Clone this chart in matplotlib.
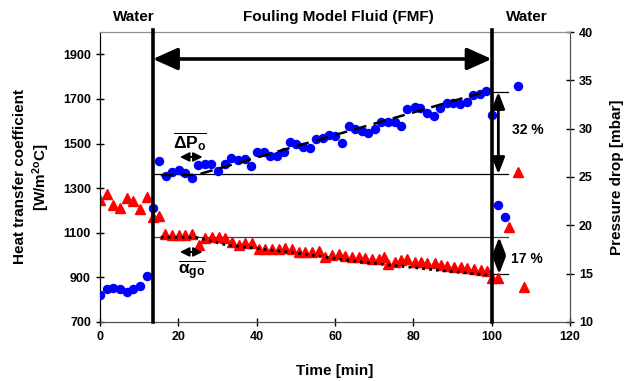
import matplotlib
matplotlib.use("Agg")
import matplotlib.pyplot as plt
from matplotlib.patches import FancyArrowPatch

plt.rcParams['font.family'] = ['Liberation Sans', 'DejaVu Sans']
plt.rcParams['font.weight'] = 'bold'
plt.rcParams['mathtext.fontset'] = 'custom'
plt.rcParams['mathtext.rm'] = 'Liberation Sans:bold'
plt.rcParams['mathtext.bf'] = 'Liberation Sans:bold'
plt.rcParams['mathtext.it'] = 'Liberation Sans:bold'

# ---- data: heat transfer coefficient (left axis, red triangles) ----
t_htc = [0, 1.7, 3.4, 5.1, 6.8, 8.5, 10.2, 11.9, 13.4, 15.1,
         16.6, 18.3, 20.1, 21.8, 23.5, 25.2, 26.9, 28.6, 30.3, 32.0,
         33.7, 35.4, 37.1, 38.8, 40.5, 42.2, 43.9, 45.6, 47.3, 49.0,
         50.7, 52.4, 54.1, 55.8, 57.5, 59.2, 60.9, 62.6, 64.3, 66.0,
         67.7, 69.4, 71.1, 72.4, 73.5, 75.2, 76.9, 78.5, 80.3, 81.9,
         83.6, 85.4, 87.1, 88.7, 90.4, 92.2, 93.8, 95.5, 97.2, 98.7,
         100.2, 101.5, 104.5, 106.8, 108.2]
htc = [1247, 1274, 1224, 1212, 1254, 1244, 1205, 1262, 1172, 1176,
       1094, 1090, 1090, 1090, 1094, 1045, 1075, 1080, 1082, 1075,
       1060, 1045, 1053, 1053, 1026, 1025, 1026, 1026, 1030, 1026,
       1015, 1012, 1015, 1019, 993, 1000, 1003, 997, 990, 993,
       985, 981, 981, 990, 962, 970, 978, 981, 970, 968,
       963, 963, 955, 952, 948, 945, 941, 936, 933, 930,
       896, 896, 1127, 1374, 858]

# ---- data: pressure drop (right axis, blue circles) ----
t_dp = [0, 1.7, 3.4, 5.1, 6.8, 8.5, 10.2, 11.9, 13.4,
        15.1, 16.8, 18.4, 20.1, 21.8, 23.4, 25.0, 26.8, 28.4, 30.1,
        31.8, 33.4, 35.2, 36.9, 38.5, 40.1, 41.8, 43.5, 45.2, 46.9,
        48.4, 50.1, 51.8, 53.5, 55.2, 56.9, 58.4, 60.1, 61.8, 63.5,
        65.2, 66.9, 68.4, 70.1, 71.8, 73.5, 75.2, 76.9, 78.5, 80.3,
        81.8, 83.5, 85.2, 86.9, 88.6, 90.2, 91.9, 93.6, 95.3, 97.0,
        98.5, 100.2, 101.7, 103.4, 106.8]
dp = [12.8, 13.4, 13.5, 13.4, 13.1, 13.4, 13.7, 14.8, 21.8,
      26.7, 25.1, 25.5, 25.7, 25.4, 24.9, 26.2, 26.3, 26.3, 25.65,
      26.3, 27.0, 26.8, 26.9, 26.1, 27.55, 27.55, 27.2, 27.2, 27.6,
      28.6, 28.4, 28.1, 27.97, 28.9, 29.0, 29.3, 29.2, 28.5, 30.3,
      30.0, 29.76, 29.6, 30.0, 30.66, 30.66, 30.66, 30.3, 32.0, 32.2,
      32.1, 31.6, 31.3, 32.1, 32.7, 32.7, 32.55, 32.8, 33.5, 33.55,
      33.9, 31.4, 22.1, 20.9, 34.4]

# trend lines
fit_dp_t = [15.5, 24.5, 99.0]
fit_dp = [25.2, 25.2, 33.9]
fit_htc_t = [15.5, 25.0, 32.3, 49.2, 66.2, 85.8, 98.9]
fit_htc = [1080, 1078, 1045, 1011, 970, 933, 911]

# reference levels
dp_start, dp_end = 25.3, 33.8
htc_start, htc_end = 1080, 915
t_fmf_start, t_fmf_end = 13.5, 100.0

fig = plt.figure(figsize=(6.24, 3.81), dpi=100)
ax = fig.add_axes([0.1603, 0.1549, 0.7532, 0.7611])
ax2 = ax.twinx()

ax.set_xlim(0, 120)
ax.set_ylim(700, 2000)
ax2.set_ylim(10, 40)
ax.set_xticks(range(0, 121, 20))
ax.set_yticks(range(700, 2000, 200))
ax2.set_yticks(range(10, 41, 5))

for a in (ax, ax2):
    a.tick_params(labelsize=9, direction='inout', length=6, width=1, colors='black')
ax.spines['left'].set_color('black')
ax.spines['bottom'].set_color('#505050')
ax.spines['top'].set_color('#909090')
ax.spines['right'].set_color('#505050')
ax2.spines['right'].set_color('#505050')
ax2.spines['left'].set_color('black')
ax2.spines['top'].set_color('#909090')
ax2.spines['bottom'].set_color('#505050')

ax.set_xlabel('Time [min]', fontsize=11, fontweight='bold', labelpad=15)
ax.set_ylabel('Heat transfer coefficient\n[W/m$^2$$^o$C]', fontsize=11, fontweight='bold', labelpad=8)
ax2.set_ylabel('Pressure drop [mbar]', fontsize=11, fontweight='bold', labelpad=12)

# reference horizontal lines
ax2.plot([t_fmf_start, 104.2], [dp_start, dp_start], color='black', lw=0.9, zorder=2)
ax2.plot([97.5, 104.2], [dp_end, dp_end], color='black', lw=0.9, zorder=2)
ax.plot([t_fmf_start, 104.2], [htc_start, htc_start], color='#404040', lw=0.9, zorder=2)
ax.plot([95.0, 104.2], [htc_end, htc_end], color='black', lw=0.9, zorder=2)

# data
ax.plot(t_htc, htc, linestyle='none', marker='^', color='#FF0000', markersize=6.8, zorder=3)
ax2.plot(t_dp, dp, linestyle='none', marker='o', color='#0000FF', markersize=5.8, zorder=3)

# trends
ax2.plot(fit_dp_t, fit_dp, color='black', lw=1.8, linestyle=(0, (5, 3)), zorder=4)
ax.plot(fit_htc_t, fit_htc, color='black', lw=2.0, linestyle=(0, (1, 1.5)), zorder=4)

# thick vertical phase lines
for tv in (t_fmf_start, t_fmf_end):
    ax2.plot([tv, tv], [10, 40.2], color='black', lw=2.6, zorder=5, clip_on=False)

# big horizontal double arrow
ax.add_patch(FancyArrowPatch((t_fmf_start, 1879), (t_fmf_end, 1879),
                             arrowstyle='<|-|>,head_length=1.0,head_width=0.45',
                             mutation_scale=15, lw=2.6, color='black', zorder=6,
                             shrinkA=0, shrinkB=0))
# vertical arrows
ax2.add_patch(FancyArrowPatch((101.7, dp_start), (101.7, dp_end),
                              arrowstyle='<|-|>,head_length=0.9,head_width=0.35',
                              mutation_scale=11, lw=2.0, color='black', zorder=6,
                              shrinkA=0, shrinkB=0))
ax.add_patch(FancyArrowPatch((101.9, htc_end), (101.9, htc_start),
                             arrowstyle='<|-|>,head_length=0.9,head_width=0.35',
                             mutation_scale=11, lw=2.0, color='black', zorder=6,
                             shrinkA=0, shrinkB=0))
# small arrows
ax2.add_patch(FancyArrowPatch((20.4, 27.07), (26.2, 27.07),
                              arrowstyle='<|-|>,head_length=0.6,head_width=0.3',
                              mutation_scale=9, lw=1.4, color='black', zorder=6,
                              shrinkA=0, shrinkB=0))
ax.add_patch(FancyArrowPatch((20.4, 1014), (26.2, 1014),
                             arrowstyle='<|-|>,head_length=0.6,head_width=0.3',
                             mutation_scale=9, lw=1.4, color='black', zorder=6,
                             shrinkA=0, shrinkB=0))

ax2.text(23.0, 28.7, r'$\overline{\Delta P_o}$', fontsize=12.5, ha='center', va='center', zorder=7)
ax.text(23.4, 930, r'$\overline{\alpha_{go}}$', fontsize=12.5, ha='center', va='center', zorder=7)
ax2.text(109.3, 29.9, '32 %', fontsize=10, fontweight='bold', ha='center', va='center')
ax.text(109.0, 982, '17 %', fontsize=10, fontweight='bold', ha='center', va='center')

fig.text(134/624, 1 - 17/381, 'Water', fontsize=11, fontweight='bold', ha='center', va='center')
fig.text(338/624, 1 - 17/381, 'Fouling Model Fluid (FMF)', fontsize=11, fontweight='bold', ha='center', va='center')
fig.text(527/624, 1 - 17/381, 'Water', fontsize=11, fontweight='bold', ha='center', va='center')

fig.savefig('out.png', dpi=100)
